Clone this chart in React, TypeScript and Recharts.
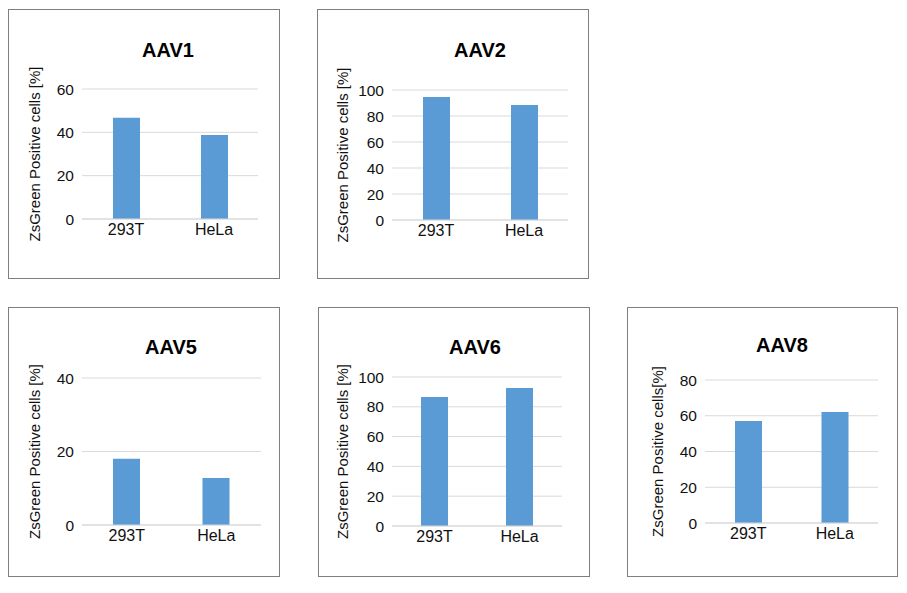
import React from "react";
import { BarChart, Bar, XAxis, YAxis, CartesianGrid } from "recharts";

const CATEGORIES = ["293T", "HeLa"];

const AAV1_VALUES = [46.7, 38.8];
const AAV2_VALUES = [94.6, 88.5];
const AAV5_VALUES = [18.0, 12.8];
const AAV6_VALUES = [86.6, 92.6];
const AAV8_VALUES = [57.1, 62.1];

const AAV1_TICKS = [0, 20, 40, 60];
const AAV2_TICKS = [0, 20, 40, 60, 80, 100];
const AAV5_TICKS = [0, 20, 40];
const AAV6_TICKS = [0, 20, 40, 60, 80, 100];
const AAV8_TICKS = [0, 20, 40, 60, 80];

const Y_LABEL = "ZsGreen Positive cells [%]";
const Y_LABEL_NOSPACE = "ZsGreen Positive cells[%]";

const BAR_COLOR = "#5B9BD5";
const GRID_COLOR = "#D9D9D9";
const FONT = "'Liberation Sans', Arial, sans-serif";

type Panel = {
  title: string;
  values: number[];
  ticks: number[];
  yLabel: string;
  // box
  x: number;
  y: number;
  w: number;
  h: number;
  // plot area offsets inside the box
  pl: number;
  pr: number;
  pt: number;
  pb: number;
  titleX: number;
  titleY: number;
  labelX: number;
};

const panels: Panel[] = [
  { title: "AAV1", values: AAV1_VALUES, ticks: AAV1_TICKS, yLabel: Y_LABEL,
    x: 8, y: 9, w: 272, h: 270, pl: 74, pr: 22, pt: 80, pb: 60, titleX: 160, titleY: 41, labelX: 27 },
  { title: "AAV2", values: AAV2_VALUES, ticks: AAV2_TICKS, yLabel: Y_LABEL,
    x: 317, y: 9, w: 272, h: 270, pl: 75, pr: 21, pt: 81, pb: 59, titleX: 163, titleY: 41, labelX: 26 },
  { title: "AAV5", values: AAV5_VALUES, ticks: AAV5_TICKS, yLabel: Y_LABEL,
    x: 8, y: 307, w: 272, h: 270, pl: 74, pr: 19, pt: 71, pb: 52, titleX: 163, titleY: 40, labelX: 27 },
  { title: "AAV6", values: AAV6_VALUES, ticks: AAV6_TICKS, yLabel: Y_LABEL,
    x: 318, y: 307, w: 272, h: 270, pl: 74, pr: 28, pt: 70, pb: 51, titleX: 157, titleY: 40, labelX: 25 },
  { title: "AAV8", values: AAV8_VALUES, ticks: AAV8_TICKS, yLabel: Y_LABEL_NOSPACE,
    x: 627, y: 307, w: 271, h: 270, pl: 78, pr: 20, pt: 73, pb: 54, titleX: 155, titleY: 38, labelX: 31 },
];

const X_AXIS_H = 30;

function ChartPanel({ p }: { p: Panel }) {
  const data = CATEGORIES.map((name, i) => ({ name, value: p.values[i] }));
  const max = p.ticks[p.ticks.length - 1];
  return (
    <div style={{ position: "absolute", left: p.x, top: p.y, width: p.w, height: p.h }}>
      <div
        style={{
          position: "absolute",
          inset: 0,
          border: "1px solid #7F7F7F",
          boxSizing: "border-box",
          background: "#fff",
        }}
      />
      <div style={{ position: "absolute", left: 0, top: 0 }}>
        <BarChart
          width={p.w}
          height={p.h}
          data={data}
          margin={{ top: p.pt, right: p.pr, bottom: p.pb - X_AXIS_H, left: 0 }}
        >
          <CartesianGrid vertical={false} stroke={GRID_COLOR} />
          <XAxis
            dataKey="name"
            height={X_AXIS_H}
            axisLine={{ stroke: GRID_COLOR }}
            tickLine={false}
            tickMargin={-1}
            tick={{ fill: "#111", fontSize: 16, fontFamily: FONT }}
          />
          <YAxis
            width={p.pl}
            domain={[0, max]}
            ticks={p.ticks}
            axisLine={false}
            tickLine={false}
            tickMargin={2}
            tick={{ fill: "#111", fontSize: 15.5, fontFamily: FONT }}
            label={{
              value: p.yLabel,
              angle: -90,
              position: "insideLeft",
              offset: p.labelX,
              style: { textAnchor: "middle", fill: "#111", fontSize: 15, fontFamily: FONT },
            }}
          />
          <Bar dataKey="value" fill={BAR_COLOR} barSize={27} isAnimationActive={false} />
        </BarChart>
      </div>
      <div
        style={{
          position: "absolute",
          left: p.titleX - 60,
          width: 120,
          top: p.titleY - 12,
          textAlign: "center",
          fontFamily: FONT,
          fontWeight: "bold",
          fontSize: 20,
          lineHeight: "24px",
          color: "#000",
        }}
      >
        {p.title}
      </div>
    </div>
  );
}

export default function App() {
  return (
    <div
      style={{
        position: "absolute",
        left: 0,
        top: 0,
        width: 907,
        height: 593,
        background: "#fff",
        overflow: "hidden",
      }}
    >
      {panels.map((p) => (
        <ChartPanel key={p.title} p={p} />
      ))}
    </div>
  );
}
